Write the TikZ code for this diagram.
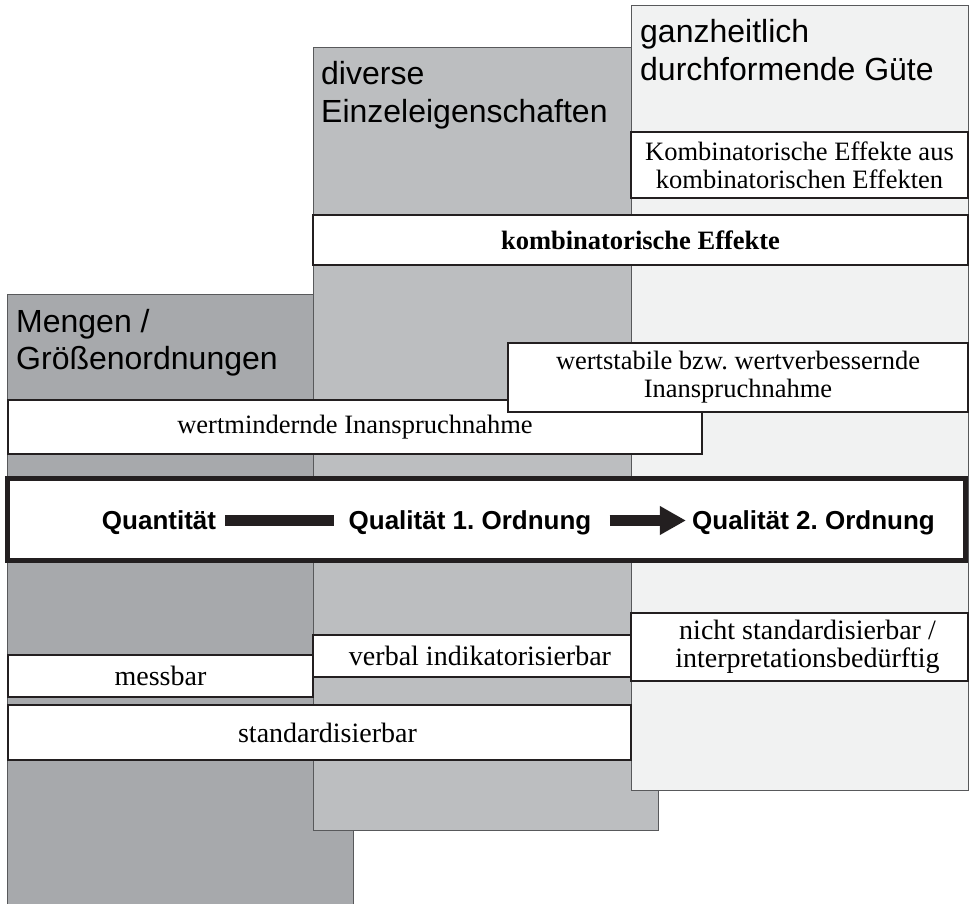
\documentclass[tikz,border=0pt]{standalone}
\usepackage{fontspec}
\setmainfont{Liberation Serif}
\setsansfont{Liberation Sans}
\frenchspacing
\usetikzlibrary{arrows.meta}
\definecolor{quantGray}{HTML}{A7A9AC}
\definecolor{qualOneGray}{HTML}{BCBEC0}
\definecolor{qualTwoGray}{HTML}{F1F2F2}
\definecolor{frameBlack}{HTML}{231F20}
\definecolor{edgeGray}{HTML}{58595B}
\tikzset{%
  column/.style={draw=edgeGray, line width=1pt},
  header/.style={anchor=base west, align=left, inner sep=0pt, font=\sffamily\fontsize{32}{37.5}\selectfont},% base = last line
  % white boxes on the columns
  property/.style={rectangle, draw=frameBlack, fill=white, line width=1.6pt, inner sep=0pt, align=center, font=\fontsize{26.5}{28}\selectfont},
  lowproperty/.style={property, font=\fontsize{28}{28}\selectfont},
  % the thick axis in the middle
  axisframe/.style={rectangle, draw=frameBlack, fill=white, line width=5pt, inner sep=0pt},
  stage/.style={inner sep=0pt, text height=19pt, text depth=2pt, font=\sffamily\bfseries\fontsize{26}{30}\selectfont},
  stagebar/.style={draw=frameBlack, line width=11pt}}

\begin{document}
\begin{tikzpicture}[x=1pt,y=-1pt]
    \useasboundingbox (0,0) rectangle (969,904);
    \clip (0,0) rectangle (969,904);

    % columns
    \draw[column, fill=quantGray] (7,294) rectangle (353,912);
    \draw[column, fill=qualOneGray] (313,48) rectangle (658,830);
    \draw[column, fill=qualTwoGray] (631,6) rectangle (968,790);

    \node[header] (mengen) at (16,369.5) {Mengen /\\Größenordnungen};
    \node[header] (diverse) at (321,122.5) {diverse\\Einzeleigenschaften};
    \node[header] (guete) at (640,80.5) {ganzheitlich\\durchformende Güte};

    % boxes above the axis
    \node[property, minimum width=337, minimum height=66] (kombkomb) at (799.5,165) {Kombinatorische Effekte aus\\kombinatorischen Effekten};
    \node[property, minimum width=655, minimum height=50] (komb) at (640.5,240) {\textbf{kombinatorische Effekte}};
    \node[property, minimum width=694, minimum height=54] (wertmind) at (355,427) {wertmindernde Inanspruchnahme};
    \node[property, minimum width=460, minimum height=69] (wertstab) at (738,377.5) {wertstabile bzw. wertverbessernde\\Inanspruchnahme};

    % axis
    \node[axisframe, minimum width=957.5, minimum height=81.5] (axis) at (486.25,519.25) {};
    \node[stage] (quant) at (159,520.5) {Quantität};
    \node[stage] (qualone) at (470,520.5) {Qualität 1. Ordnung};
    \node[stage] (qualtwo) at (813.5,520.5) {Qualität 2. Ordnung};
    \draw[stagebar, shorten <=9pt, shorten >=14pt] (quant) -- (qualone);
    \draw[stagebar, -{Triangle[length=26pt,width=27pt]}, shorten <=18pt, shorten >=6pt] (qualone) -- (qualtwo);

    % boxes below the axis
    \node[lowproperty, minimum width=337, minimum height=68] (nichtstd) at (799.5,647) {\hspace*{16pt}nicht standardisierbar /\\\hspace*{16pt}interpretationsbedürftig};
    \node[lowproperty, minimum width=318, minimum height=42] (verbal) at (472,656) {\hspace*{16pt}verbal indikatorisierbar};
    \node[lowproperty, minimum width=305, minimum height=42] (messbar) at (160.5,676) {messbar};
    \node[lowproperty, minimum width=623, minimum height=55] (standard) at (319.5,732.5) {\hspace*{16pt}standardisierbar};
\end{tikzpicture}
\end{document}
